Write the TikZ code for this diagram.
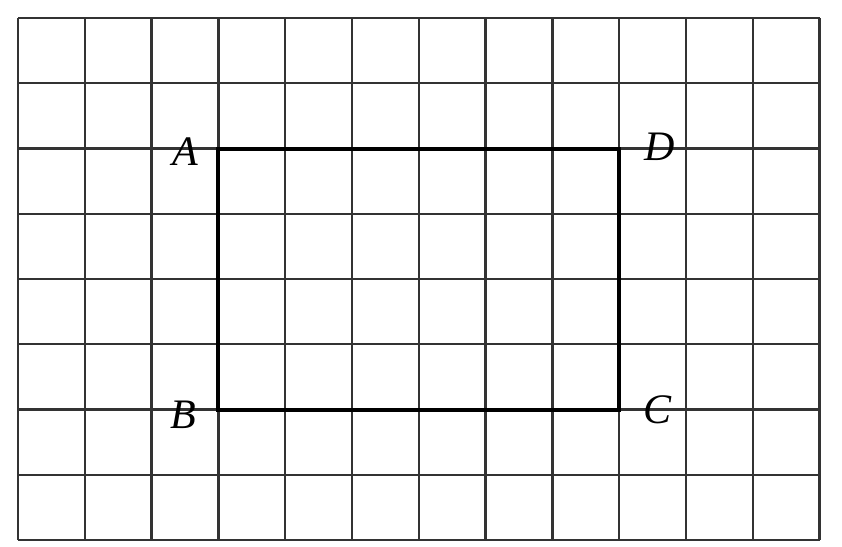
\documentclass[tikz,border=0pt]{standalone}
\usepackage{fontspec}
\setmainfont{Liberation Serif}
\begin{document}
\begin{tikzpicture}[x=66.8pt,y=-65.25pt,
  gridline/.style={line width=2.4pt,black!80,line cap=square},
  rectline/.style={line width=4pt,black,line join=miter},
  ptlabel/.style={font=\fontsize{42}{42}\selectfont\itshape,inner sep=0pt}]
\useasboundingbox[fill=white] (-0.2695,-0.2759) rectangle (12.335,8.107);
\foreach \i in {0,...,12} \draw[gridline] (\i,0) -- (\i,8);
\foreach \j in {0,...,8} \draw[gridline] (0,\j) -- (12,\j);
\coordinate (A) at (3,2);
\coordinate (D) at (9,2);
\coordinate (C) at (9,6);
\coordinate (B) at (3,6);
\draw[rectline] (A) -- (D) -- (C) -- (B) -- cycle;
\node[ptlabel] (lA) at (2.5,2.05) {A};
\node[ptlabel] (lB) at (2.47,6.08) {B};
\node[ptlabel] (lC) at (9.57,6.0) {C};
\node[ptlabel] (lD) at (9.61,1.98) {D};
\end{tikzpicture}
\end{document}
